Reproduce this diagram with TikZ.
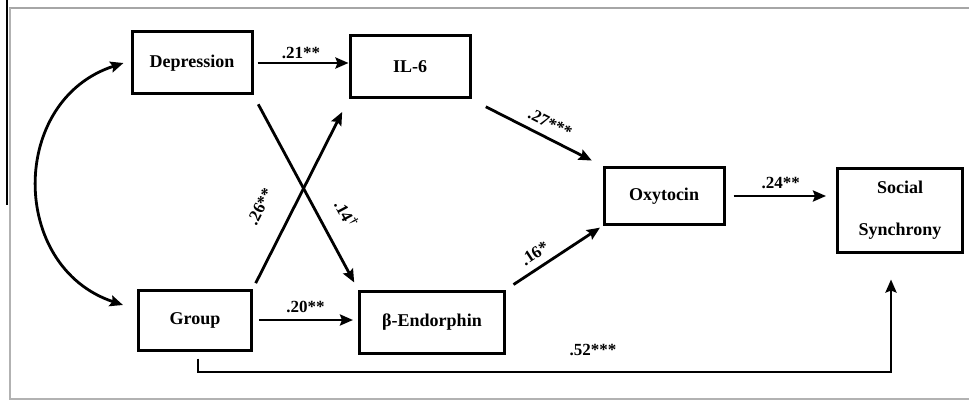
\documentclass[tikz,border=0pt]{standalone}
\usepackage{fontspec}
\setmainfont{Liberation Serif}
\usetikzlibrary{arrows.meta,positioning}

\begin{document}
\begin{tikzpicture}[x=1pt,y=-1pt,
  box/.style={draw,line width=3pt,align=center,inner sep=2pt,font=\fontsize{18}{42}\selectfont\bfseries},
  path/.style={->,line width=2.8pt},
  coef/.style={font=\fontsize{17}{17}\selectfont\bfseries},
  >={Stealth[length=13pt,width=11pt,inset=2pt]}]
\useasboundingbox (0,0) rectangle (969,401);
% frame
\draw[gray!70,line width=2.4pt] (9,8) -- (969,8);
\draw[gray!60,line width=2pt] (10,8) -- (10,399) -- (969,399);
\draw[line width=1.4pt] (7,0) -- (7,205);
% variables
\node[box,minimum width=120pt,minimum height=62pt] (dep) at (192,63) {Depression};
\node[box,minimum width=120pt,minimum height=62pt] (il6) at (410,67) {IL-6};
\node[box,minimum width=113pt,minimum height=60pt] (grp) at (195,320) {Group};
\node[box,minimum width=145pt,minimum height=62pt] (bend) at (432,322) {β-Endorphin};
\node[box,minimum width=120pt,minimum height=57pt] (oxy) at (664,196) {Oxytocin};
\node[box,minimum width=125pt,minimum height=84pt] (soc) at (900,210) {Social\\Synchrony};
\coordinate (low) at (500,372);
% paths
\draw[path,shorten <=4pt] (dep.east) -- node[coef,above] {.21**} (dep.east -| il6.west);
\draw[path,shorten <=6pt,shorten >=5pt] (grp.east) -- node[coef,above=3pt] {.20**} (grp.east -| bend.west);
\draw[path,shorten <=10pt,shorten >=8pt] (dep.south east) -- node[coef,sloped,above=14pt,pos=0.67] {.14\textsuperscript{†}} (bend.north west);
\draw[path,shorten <=6pt,shorten >=14pt] (grp.north east) -- node[coef,sloped,above=20pt,pos=0.36] {.26**} (il6.south west);
\draw[path,shorten <=16pt,shorten >=12pt] (il6.south east) -- node[coef,sloped,above=4pt,pos=0.55] {.27***} (oxy.north west);
\draw[path,shorten <=9pt,shorten >=3pt] (bend.north east) -- node[coef,sloped,above=4pt,pos=0.38] {.16*} (oxy.south west);
\draw[path,shorten <=8pt,shorten >=10pt] (oxy.east) -- node[coef,above=3pt] {.24**} (oxy.east -| soc.west);
\draw[path,shorten <=7pt,shorten >=26pt] ([xshift=3pt]grp.south) |- (low) -| ([xshift=-9pt]soc.south);
\node[coef] (r52) at (593,350) {.52***};
\draw[path,<->] ([xshift=-7pt]dep.west) .. controls (9,100) and (9,267) .. ([shift={(-14pt,15pt)}]grp.west);
\end{tikzpicture}
\end{document}
